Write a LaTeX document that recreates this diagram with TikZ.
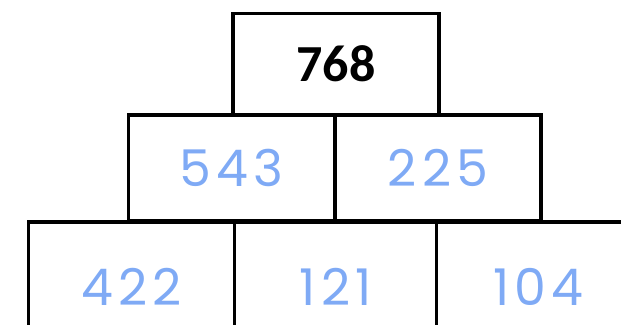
\documentclass[tikz,border=0pt]{standalone}
\usepackage{fontspec}
\newfontfamily\topfont{Carlito}
\newfontfamily\handfont[LetterSpace=10]{Poppins}
\usetikzlibrary{positioning}
\definecolor{penblue}{RGB}{127,170,245}

\begin{document}
\begin{tikzpicture}[
    brick/.style={draw, line width=2.2pt, inner sep=0pt, minimum height=2.65cm},
    sum/.style={font=\topfont\bfseries\fontsize{37}{40}\selectfont},
    hand/.style={text=penblue, font=\handfont\fontsize{36}{40}\selectfont}
  ]
  \useasboundingbox (0,0) rectangle (15.525,-8.125);
  \clip (0,0) rectangle (15.525,-8.125);

  % --- bottom row ---
  \node[brick, hand, minimum width=5.15cm, minimum height=3.25cm] (b1) at (3.29,-7.175) {422};
  \node[brick, hand, minimum width=5.06cm, minimum height=3.25cm] (b2) at (8.39,-7.175) {121};
  \node[brick, hand, minimum width=5.075cm, minimum height=3.25cm] (b3) at (13.46,-7.175) {104};

  % --- middle row ---
  \node[brick, hand, minimum width=5.175cm] (m1) at (5.79,-4.2) {543};
  \node[brick, hand, minimum width=5.15cm] (m2) at (10.95,-4.2) {225};

  % --- top ---
  \node[brick, sum, minimum width=5.15cm, minimum height=2.525cm] (top) at (8.4,-1.59) {768};

\end{tikzpicture}
\end{document}
